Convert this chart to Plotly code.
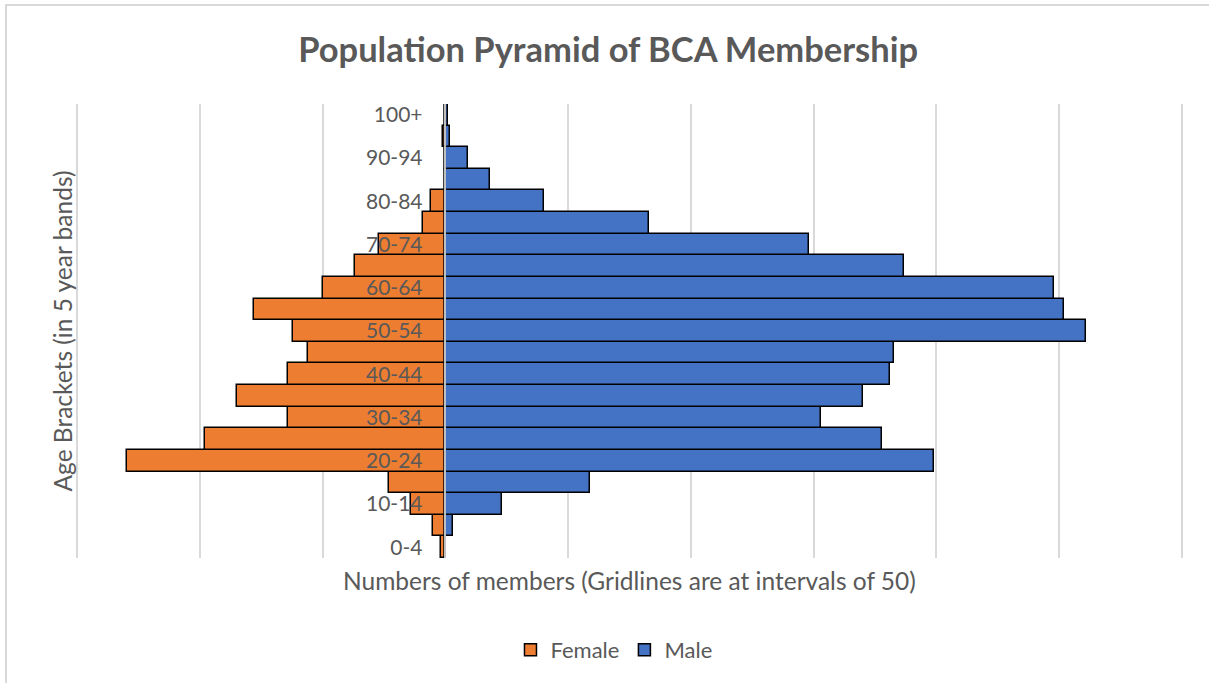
import plotly.graph_objects as go

# Age brackets, youngest first (bottom of the pyramid)
age_brackets = ["0-4", "5-9", "10-14", "15-19", "20-24", "25-29", "30-34",
                "35-39", "40-44", "45-49", "50-54", "55-59", "60-64", "65-69",
                "70-74", "75-79", "80-84", "85-89", "90-94", "95-99", "100+"]

# Member counts per bracket
female = [2, 5, 14, 23, 130, 98, 64, 85, 64, 56, 62, 78, 50, 37, 27, 9, 6, 0, 0, 1, 0]
male = [0, 3, 23, 59, 199, 178, 153, 170, 181, 183, 261, 252, 248, 187, 148, 83, 40, 18, 9, 2, 1]

# Only every other bracket is labelled on the axis
labelled_brackets = age_brackets[::2]

TEXT = "#595959"
FONT = "Lato"

fig = go.Figure()
fig.add_trace(go.Bar(
    y=age_brackets, x=[-v for v in female], name="Female", orientation="h",
    marker=dict(color="#ED7D31", line=dict(color="#000000", width=1.5)),
    customdata=female, hovertemplate="%{y}: %{customdata}<extra>Female</extra>",
))
fig.add_trace(go.Bar(
    y=age_brackets, x=male, name="Male", orientation="h",
    marker=dict(color="#4472C4", line=dict(color="#000000", width=1.5)),
    hovertemplate="%{y}: %{x}<extra>Male</extra>",
))

# padding so the outermost gridlines (-150 and 300) are not clipped at the edges
x_lo, x_hi = -151, 301

fig.update_layout(
    width=1209, height=683,
    margin=dict(l=75, r=25, t=104, b=125),
    paper_bgcolor="white", plot_bgcolor="white",
    barmode="relative", bargap=0,
    font=dict(family=FONT, color=TEXT, size=21),
    title=dict(text="<b>Population Pyramid of BCA Membership</b>",
               font=dict(family=FONT, size=34.5, color=TEXT),
               x=0.503, xref="container", xanchor="center",
               y=1 - 50 / 683, yref="container", yanchor="middle"),
    xaxis=dict(range=[x_lo, x_hi], dtick=50, tick0=0, showgrid=True,
               gridcolor="#d9d9d9", gridwidth=1.5, zeroline=False,
               showticklabels=False, showline=False, fixedrange=True),
    yaxis=dict(type="category", categoryorder="array", categoryarray=age_brackets,
               tickmode="array", tickvals=labelled_brackets, ticktext=labelled_brackets,
               anchor="free", position=-x_lo / (x_hi - x_lo), side="left",
               showline=True, linecolor="#bfbfbf", linewidth=1.5,
               ticks="", ticklabelstandoff=18, layer="above traces",
               showgrid=False, zeroline=False,
               tickfont=dict(family=FONT, size=21, color=TEXT)),
    legend=dict(orientation="h", x=0.486, xanchor="center", y=-0.2026,
                yanchor="middle", traceorder="normal",
                font=dict(family=FONT, size=22, color=TEXT)),
    annotations=[
        dict(text="Numbers of members (Gridlines are at intervals of 50)",
             xref="paper", yref="paper", x=0.5, y=-0.0485,
             xanchor="center", yanchor="middle", showarrow=False,
             font=dict(family=FONT, size=24.5, color=TEXT)),
        dict(text="Age Brackets (in 5 year bands)", textangle=-90,
             xref="paper", yref="paper", x=-0.0117, y=0.499,
             xanchor="center", yanchor="middle", showarrow=False,
             font=dict(family=FONT, size=24.5, color=TEXT)),
    ],
    shapes=[
        dict(type="rect", xref="paper", yref="paper",
             x0=-0.0622, x1=1.2, y0=-0.6, y1=1.218,
             line=dict(color="#d9d9d9", width=2), fillcolor="rgba(0,0,0,0)",
             layer="below"),
    ],
)

fig.write_html("out.html")
